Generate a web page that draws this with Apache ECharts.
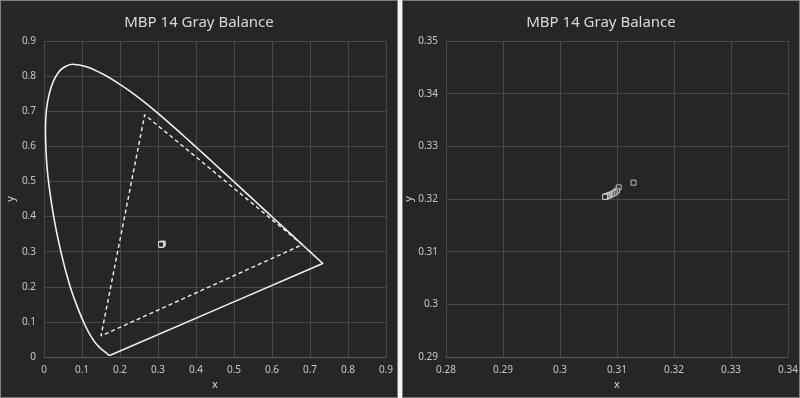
<!DOCTYPE html>
<html>
<head>
<meta charset="utf-8">
<title>MBP 14 Gray Balance</title>
<script src="https://cdn.jsdelivr.net/npm/echarts@6/dist/echarts.min.js"></script>
<style>
html, body { margin: 0; padding: 0; background: #f2f2f2; }
.panel {
  position: absolute;
  top: 0;
  width: 396px;
  height: 396px;
  background: #262626;
  border: 1px solid #7f7f7f;
}
#chart1 { left: 0; }
#chart2 { left: 402px; }
</style>
</head>
<body>
<div class="panel" id="chart1"></div>
<div class="panel" id="chart2"></div>
<script>
// CIE 1931 spectral locus (380 - 700 nm)
var locusX = [0.1741, 0.1740, 0.1738, 0.1736, 0.1733, 0.1730, 0.1726, 0.1721, 0.1714, 0.1703,
  0.1689, 0.1669, 0.1644, 0.1611, 0.1566, 0.1510, 0.1440, 0.1355, 0.1241, 0.1096,
  0.0913, 0.0687, 0.0454, 0.0235, 0.0082, 0.0039, 0.0139, 0.0389, 0.0743, 0.1142,
  0.1547, 0.1929, 0.2296, 0.2658, 0.3016, 0.3373, 0.3731, 0.4087, 0.4441, 0.4788,
  0.5125, 0.5448, 0.5752, 0.6029, 0.6270, 0.6482, 0.6658, 0.6801, 0.6915, 0.7006,
  0.7079, 0.7140, 0.7190, 0.7230, 0.7260, 0.7300, 0.7320, 0.7334, 0.7347]
var locusY = [0.0050, 0.0050, 0.0049, 0.0049, 0.0048, 0.0048, 0.0048, 0.0048, 0.0051, 0.0058,
  0.0069, 0.0086, 0.0109, 0.0138, 0.0177, 0.0227, 0.0297, 0.0399, 0.0578, 0.0868,
  0.1327, 0.2007, 0.2950, 0.4127, 0.5384, 0.6548, 0.7502, 0.8120, 0.8338, 0.8262,
  0.8059, 0.7816, 0.7543, 0.7243, 0.6923, 0.6589, 0.6245, 0.5896, 0.5547, 0.5202,
  0.4866, 0.4544, 0.4242, 0.3965, 0.3725, 0.3514, 0.3340, 0.3197, 0.3083, 0.2993,
  0.2920, 0.2859, 0.2809, 0.2770, 0.2740, 0.2700, 0.2680, 0.2666, 0.2653]

// Display P3 gamut (R, G, B)
var gamutX = [0.680, 0.265, 0.150]
var gamutY = [0.320, 0.690, 0.060]

// measured gray steps
var grayX = [0.3129, 0.3103, 0.3100, 0.3097, 0.3094, 0.3091, 0.3088, 0.3086, 0.3084, 0.3082, 0.3080, 0.3079]
var grayY = [0.3231, 0.3222, 0.3216, 0.3213, 0.3211, 0.3209, 0.3208, 0.3207, 0.3206, 0.3205, 0.3205, 0.3204]

var xTicks1 = [0, 0.9, 0.1]
var yTicks1 = [0, 0.9, 0.1]
var xTicks2 = [0.28, 0.34, 0.01]
var yTicks2 = [0.29, 0.35, 0.01]

var FONT = 'Noto Sans'

function pairs (xs, ys, close) {
  var out = xs.map(function (x, i) { return [x, ys[i]] })
  if (close) out.push([xs[0], ys[0]])
  return out
}

function axis (ticks, name, gap, isY) {
  return {
    type: 'value',
    min: ticks[0],
    max: ticks[1],
    interval: ticks[2],
    name: name,
    nameLocation: 'middle',
    nameGap: gap,
    nameMoveOverlap: false,
    nameTextStyle: { color: '#d9d9d9', fontSize: 11, fontFamily: FONT },
    axisLine: { show: !isY, lineStyle: { color: '#595959' } },
    axisTick: { show: false },
    axisLabel: { color: '#c8c8c8', fontSize: 10, fontFamily: FONT, margin: 8 },
    splitLine: { show: true, lineStyle: { color: '#484848', width: 1 } }
  }
}

function baseOption (xt, yt, yGap) {
  return {
    animation: false,
    title: {
      text: 'MBP 14 Gray Balance',
      left: 'center',
      top: 9,
      textStyle: { color: '#d9d9d9', fontSize: 15, fontWeight: 'normal', fontFamily: FONT }
    },
    grid: { left: 43, right: 11, top: 40, bottom: 40, outerBoundsMode: 'none', containLabel: false },
    xAxis: axis(xt, 'x', 22, false),
    yAxis: axis(yt, 'y', yGap, true),
    series: []
  }
}

var graySeries = {
  name: 'gray',
  type: 'scatter',
  symbol: 'rect',
  symbolSize: 5,
  data: pairs(grayX, grayY, false),
  itemStyle: { color: '#262626', borderColor: '#e0e0e0', borderWidth: 1 },
  z: 5
}

var option1 = baseOption(xTicks1, yTicks1, 28)
option1.series = [
  {
    name: 'locus',
    type: 'line',
    data: pairs(locusX, locusY, true),
    showSymbol: false,
    smooth: 0.3,
    lineStyle: { color: '#f0f0f0', width: 1.6 }
  },
  {
    name: 'P3',
    type: 'line',
    data: pairs(gamutX, gamutY, true),
    showSymbol: false,
    lineStyle: { color: '#f0f0f0', width: 1.4, type: [4, 3] }
  },
  graySeries
]

var option2 = baseOption(xTicks2, yTicks2, 32)
option2.series = [graySeries]

echarts.init(document.getElementById('chart1')).setOption(option1)
echarts.init(document.getElementById('chart2')).setOption(option2)
</script>
</body>
</html>
